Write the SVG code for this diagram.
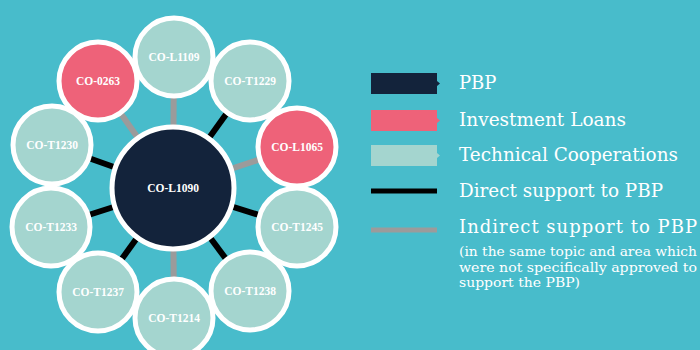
<svg xmlns="http://www.w3.org/2000/svg" width="700" height="350" viewBox="0 0 700 350">
<style>
.bg{fill:#48BCCB}
.n{stroke:#fff;stroke-width:5}
.pbp{fill:#13233B}
.il{fill:#EE6279}
.tc{fill:#A4D5CF}
.lbl{font-family:"Liberation Serif",serif;font-weight:bold;font-size:11.5px;fill:#fff;text-anchor:middle}
.d{stroke:#000;stroke-width:6}
.i{stroke:#9B9B9B;stroke-width:6}
.lg{font-family:"DejaVu Serif","Liberation Serif",serif;font-size:18px;fill:#fff}
.sm{font-family:"DejaVu Serif","Liberation Serif",serif;font-size:13px;fill:#fff}
</style>
<rect class="bg" width="700" height="350"/>
<g id="connectors">
<line class="i" x1="173" y1="188" x2="174" y2="57"/>
<line class="i" x1="173" y1="188" x2="98" y2="81"/>
<line class="d" x1="173" y1="188" x2="250" y2="81"/>
<line class="i" x1="173" y1="188" x2="297" y2="147"/>
<line class="d" x1="173" y1="188" x2="52" y2="145"/>
<line class="d" x1="173" y1="188" x2="51" y2="227"/>
<line class="d" x1="173" y1="188" x2="297" y2="227"/>
<line class="d" x1="173" y1="188" x2="98" y2="292"/>
<line class="d" x1="173" y1="188" x2="250" y2="291"/>
<line class="i" x1="173" y1="188" x2="174" y2="318"/>
</g>
<g id="n-co-0263"><circle class="n il" cx="98" cy="81" r="39"/><text class="lbl" x="98" y="85">CO-0263</text></g>
<g id="n-co-t1229"><circle class="n tc" cx="250" cy="81" r="39"/><text class="lbl" x="250" y="85">CO-T1229</text></g>
<g id="n-co-l1109"><circle class="n tc" cx="174" cy="57" r="39"/><text class="lbl" x="174" y="61">CO-L1109</text></g>
<g id="n-co-t1230"><circle class="n tc" cx="52" cy="145" r="39"/><text class="lbl" x="52" y="149">CO-T1230</text></g>
<g id="n-co-l1065"><circle class="n il" cx="297" cy="147" r="39"/><text class="lbl" x="297" y="151">CO-L1065</text></g>
<g id="n-co-t1233"><circle class="n tc" cx="51" cy="227" r="39"/><text class="lbl" x="51" y="231">CO-T1233</text></g>
<g id="n-co-t1245"><circle class="n tc" cx="297" cy="227" r="39"/><text class="lbl" x="297" y="231">CO-T1245</text></g>
<g id="n-co-t1237"><circle class="n tc" cx="98" cy="292" r="39"/><text class="lbl" x="98" y="296">CO-T1237</text></g>
<g id="n-co-t1238"><circle class="n tc" cx="250" cy="291" r="39"/><text class="lbl" x="250" y="295">CO-T1238</text></g>
<g id="n-co-t1214"><circle class="n tc" cx="174" cy="318" r="39"/><text class="lbl" x="174" y="322">CO-T1214</text></g>
<g id="n-co-l1090"><circle class="n pbp" cx="173" cy="188" r="61"/><text class="lbl" x="173" y="192">CO-L1090</text></g>
<g id="legend">
<path class="pbp" d="M371 73H437V81L440 83.5L437 86V94H371Z"/>
<path class="il" d="M371 110H437V118L440 120.5L437 123V131H371Z"/>
<path class="tc" d="M371 145H437V153L440 155.5L437 158V166H371Z"/>
<line stroke="#000" stroke-width="5" x1="371" y1="191" x2="437" y2="191"/>
<line stroke="#9B9B9B" stroke-width="5" x1="371" y1="230" x2="437" y2="230"/>
<text class="lg" x="459" y="89">PBP</text>
<text class="lg" x="459" y="126" textLength="167" lengthAdjust="spacingAndGlyphs">Investment Loans</text>
<text class="lg" x="459" y="161" textLength="219" lengthAdjust="spacingAndGlyphs">Technical Cooperations</text>
<text class="lg" x="459" y="197" textLength="204" lengthAdjust="spacingAndGlyphs">Direct support to PBP</text>
<text class="lg" x="459" y="233" textLength="238" lengthAdjust="spacing">Indirect support to PBP</text>
<text class="sm" x="459" y="256" textLength="238" lengthAdjust="spacingAndGlyphs">(in the same topic and area which</text>
<text class="sm" x="459" y="272" textLength="238" lengthAdjust="spacingAndGlyphs">were not specifically approved to</text>
<text class="sm" x="459" y="287" textLength="121" lengthAdjust="spacingAndGlyphs">support the PBP)</text>
</g>
</svg>
